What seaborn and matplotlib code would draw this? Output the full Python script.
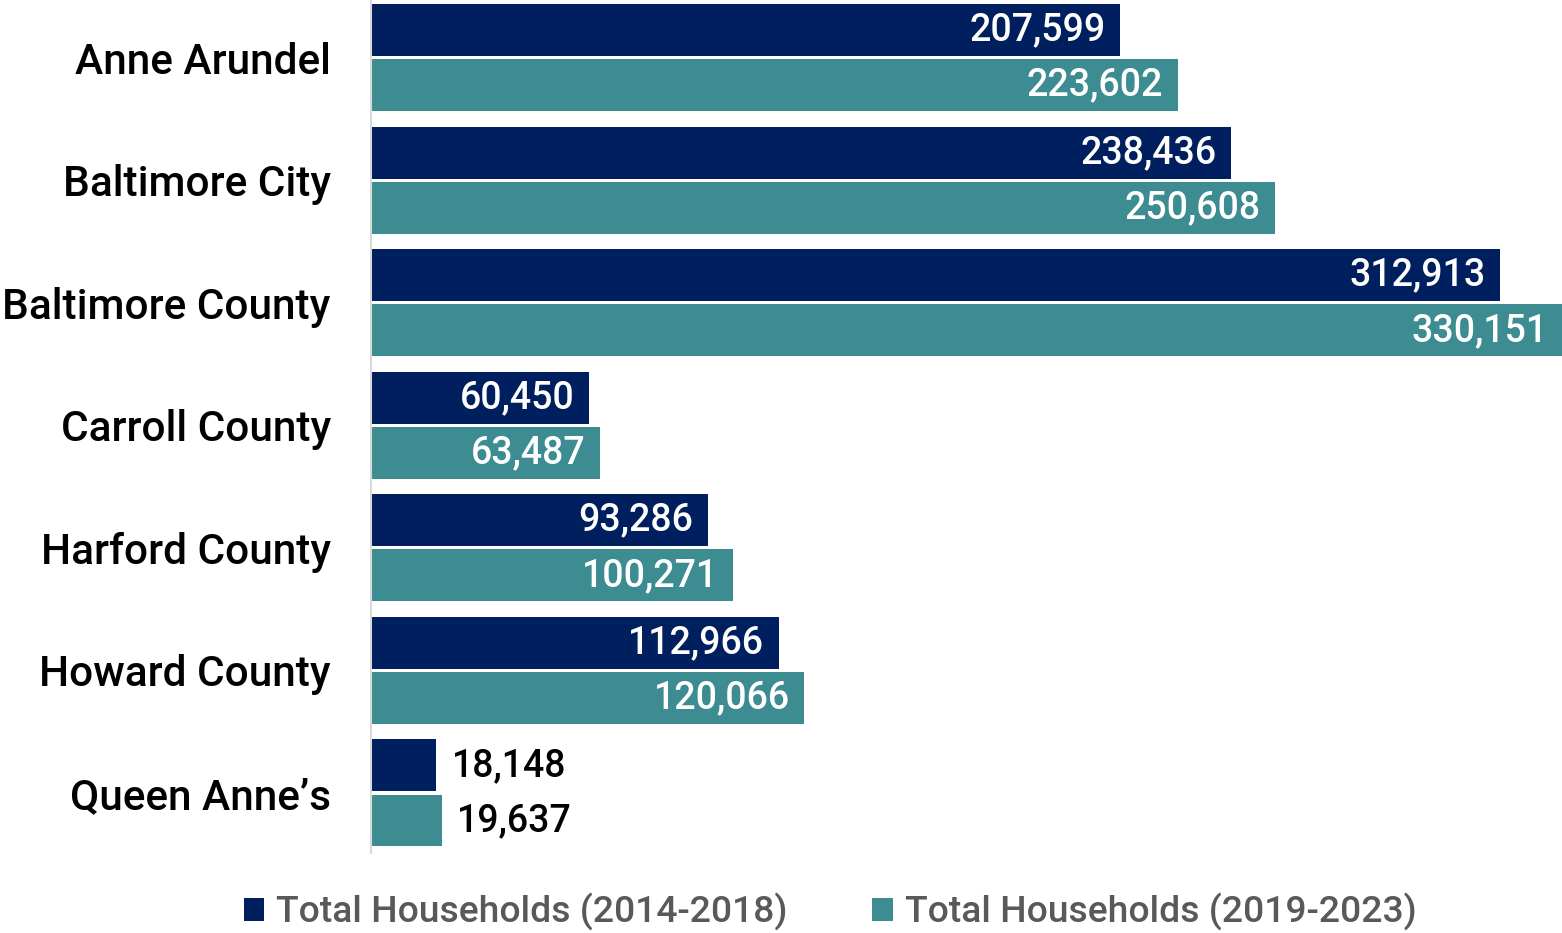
import matplotlib
matplotlib.use("Agg")
import matplotlib.pyplot as plt
import seaborn as sns
import pandas as pd
from matplotlib.patches import Patch

counties = ["Anne Arundel", "Baltimore City", "Baltimore County", "Carroll County",
            "Harford County", "Howard County", "Queen Anne\u2019s"]
hh_2014_2018 = [207599, 238436, 312913, 60450, 93286, 112966, 18148]
hh_2019_2023 = [223602, 250608, 330151, 63487, 100271, 120066, 19637]
series_names = ["Total Households (2014-2018)", "Total Households (2019-2023)"]
colors = ["#001F5E", "#3D8C91"]

df = pd.DataFrame({
    "County": counties * 2,
    "Households": hh_2014_2018 + hh_2019_2023,
    "Series": [series_names[0]] * len(counties) + [series_names[1]] * len(counties),
})

sns.set_theme(style="white")
plt.rcParams["font.family"] = ["Roboto", "DejaVu Sans"]

fig = plt.figure(figsize=(15.62, 9.33), dpi=100)
ax = fig.add_axes([371 / 1562, 80 / 933, 1 - 371 / 1562, 853 / 933])

sns.barplot(data=df, y="County", x="Households", hue="Series", orient="h",
            palette=colors, saturation=1, width=0.9, gap=0.06, ax=ax, legend=False,
            edgecolor="none", linewidth=0)

ax.set_xlim(0, 330151)
ax.set_ylim(6.49, -0.47)
ax.set_xlabel("")
ax.set_ylabel("")
ax.set_xticks([])
for s in ["top", "right", "bottom"]:
    ax.spines[s].set_visible(False)
ax.spines["left"].set_color("#D9D9D9")
ax.spines["left"].set_linewidth(1.5)
ax.tick_params(axis="y", length=0, pad=29, labelsize=30.5)
for lbl in ax.get_yticklabels():
    lbl.set_fontweight("medium")
    lbl.set_color("black")

thresh = 40000
for container in ax.containers:
    for bar in container:
        w = bar.get_width()
        yc = bar.get_y() + bar.get_height() / 2
        txt = f"{int(round(w)):,}"
        if w > thresh:
            ax.text(w - 330151 * 0.012, yc, txt, ha="right", va="center",
                    color="white", fontsize=27, fontweight="medium")
        else:
            ax.text(w + 330151 * 0.013, yc, txt, ha="left", va="center",
                    color="black", fontsize=27, fontweight="medium")

handles = [Patch(facecolor=c, edgecolor="none") for c in colors]
leg = fig.legend(handles, series_names, loc="center", bbox_to_anchor=(830 / 1562, 1 - 912 / 933),
                 ncol=2, frameon=False, fontsize=26.8, handlelength=0.55, handleheight=0.55,
                 handletextpad=0.32, columnspacing=2.27)
for t in leg.get_texts():
    t.set_color("#595959")
    t.set_fontweight("medium")

fig.savefig("out.png", dpi=100)
